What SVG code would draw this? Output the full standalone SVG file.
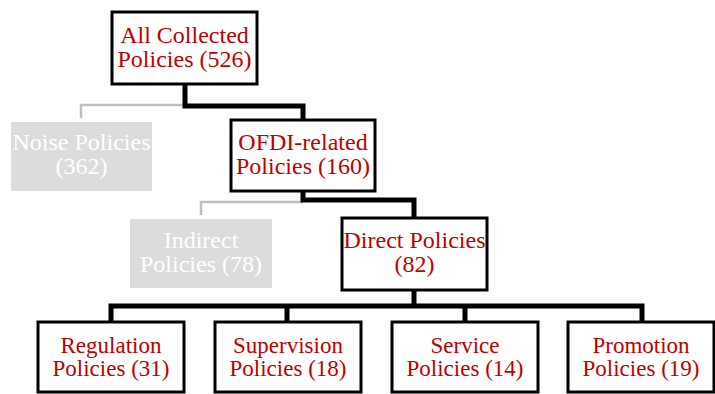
<svg xmlns="http://www.w3.org/2000/svg" width="715" height="394" viewBox="0 0 715 394">
<style>
.box{fill:#fff;stroke:#000;stroke-width:3}
.gbox{fill:#dcdcdc;stroke:none}
text{font-family:'Liberation Serif','Times New Roman',serif;font-size:24px;text-anchor:middle}
.t{fill:#c00000}
.gt{fill:#fff}
.s{font-size:23px}
.c{fill:none;stroke:#000;stroke-width:5;stroke-linejoin:miter}
.gc{fill:none;stroke:#bfbfbf;stroke-width:2.5}
</style>
<rect width="715" height="394" fill="#fff"/>
<g id="connectors">
<polyline class="gc" points="185,105 81,105 81,118"/>
<polyline class="gc" points="303,202 201,202 201,215"/>
<polyline class="c" points="185,85 185,106 303,106 303,119"/>
<polyline class="c" points="303,192 303,200 414,200 414,217"/>
<polyline class="c" points="111,322 111,306 642,306 642,322"/>
<line class="c" x1="414" y1="291" x2="414" y2="306"/>
<line class="c" x1="287" y1="306" x2="287" y2="322"/>
<line class="c" x1="465" y1="306" x2="465" y2="322"/>
</g>
<g id="root">
<rect class="box" x="112" y="12" width="145" height="72"/>
<text class="t" x="184.5" y="43">All Collected</text>
<text class="t" x="184.5" y="67">Policies (526)</text>
</g>
<g id="noise">
<rect class="gbox" x="11" y="122" width="141" height="69"/>
<text class="gt" x="81.5" y="150">Noise Policies</text>
<text class="gt" x="81.5" y="174">(362)</text>
</g>
<g id="ofdi">
<rect class="box" x="231" y="120" width="144" height="71"/>
<text class="t" x="303" y="150">OFDI-related</text>
<text class="t" x="303" y="174">Policies (160)</text>
</g>
<g id="indirect">
<rect class="gbox" x="130" y="219" width="142" height="69"/>
<text class="gt" x="201" y="248">Indirect</text>
<text class="gt" x="201" y="272">Policies (78)</text>
</g>
<g id="direct">
<rect class="box" x="342" y="218" width="145" height="72"/>
<text class="t" x="414.5" y="248">Direct Policies</text>
<text class="t" x="414.5" y="272">(82)</text>
</g>
<g id="regulation">
<rect class="box" x="38" y="322" width="146" height="70"/>
<text class="t s" x="111" y="353">Regulation</text>
<text class="t s" x="111" y="376">Policies (31)</text>
</g>
<g id="supervision">
<rect class="box" x="215" y="322" width="146" height="70"/>
<text class="t s" x="288" y="353">Supervision</text>
<text class="t s" x="288" y="376">Policies (18)</text>
</g>
<g id="service">
<rect class="box" x="392" y="322" width="146" height="70"/>
<text class="t s" x="465" y="353">Service</text>
<text class="t s" x="465" y="376">Policies (14)</text>
</g>
<g id="promotion">
<rect class="box" x="568" y="322" width="146" height="70"/>
<text class="t s" x="641" y="353">Promotion</text>
<text class="t s" x="641" y="376">Policies (19)</text>
</g>
</svg>
